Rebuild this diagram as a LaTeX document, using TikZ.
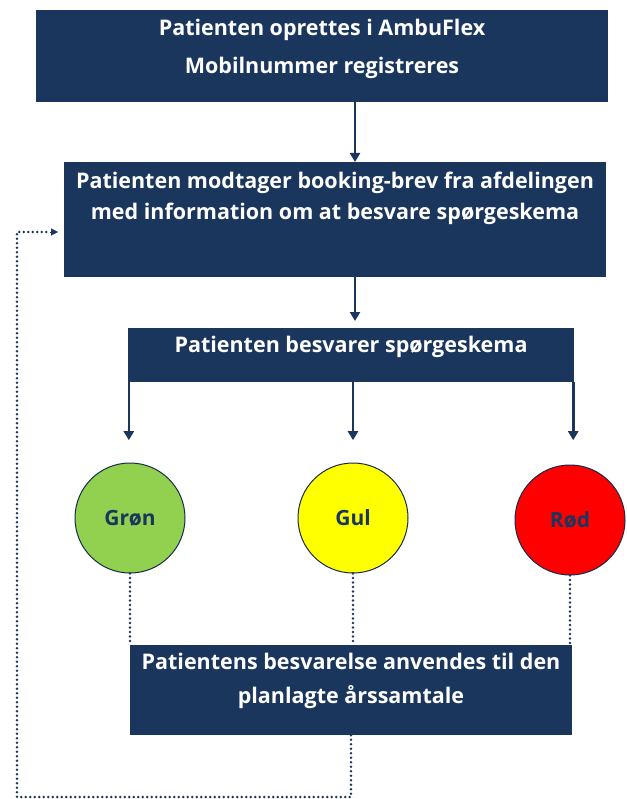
\documentclass[tikz,border=0pt]{standalone}
\usepackage{fontspec}
\setmainfont{Open Sans}
\usetikzlibrary{positioning,arrows.meta}

\definecolor{navy}{HTML}{1B365D}
\definecolor{groen}{HTML}{92D050}
\definecolor{gul}{HTML}{FFFF00}
\definecolor{roed}{HTML}{FF0000}

\tikzset{
  box/.style={fill=navy, draw=none, inner sep=0pt},
  boxtxt/.style={text=white, font=\bfseries\fontsize{21.5}{34}\selectfont, align=center, inner sep=0pt},
  light/.style={circle, draw=navy!80!black, line width=1pt, minimum size=110pt, text=navy, font=\bfseries\fontsize{21}{24}\selectfont},
  flow/.style={draw=navy, line width=2.6pt, -{Triangle[width=10pt,length=9pt]}},
  dots/.style={draw=navy, line width=2.8pt, line cap=round, dash pattern=on 0pt off 4.5pt}
}

\begin{document}
\begin{tikzpicture}[x=1pt,y=-1pt]
  \useasboundingbox (0,0) rectangle (626,799);

  % boxes
  \node[box, minimum width=572pt, minimum height=92pt] (oprettes) at (322,56) {};
  \node[boxtxt, below=9pt of oprettes.north, font=\bfseries\fontsize{21.5}{38}\selectfont] (oprettestxt)
      {Patienten oprettes i AmbuFlex\\Mobilnummer registreres};
  \node[box, minimum width=542pt, minimum height=115pt] (modtager) at (335,219.5) {};
  \node[boxtxt, below=10pt of modtager.north, font=\bfseries\fontsize{21.5}{31}\selectfont] (modtagertxt)
      {Patienten modtager booking-brev fra afdelingen\\med information om at besvare spørgeskema};
  \node[box, minimum width=446pt, minimum height=54pt] (besvarer) at (351,355) {};
  \node[boxtxt, below=8pt of besvarer.north] (besvarertxt)
      {Patienten besvarer spørgeskema};
  \node[box, minimum width=442pt, minimum height=90pt] (anvendes) at (351,690) {};
  \node[boxtxt, below=8pt of anvendes.north] (anvendestxt)
      {Patientens besvarelse anvendes til den\\planlagte årssamtale};

  % lights
  \node[light, fill=groen] (groen) at (130,518) {Grøn};
  \node[light, fill=gul]   (gul)   at (353,518) {Gul};
  \node[light, fill=roed]  (roed)  at (570,520) {Rød};

  % arrows
  \draw[flow] (355,102) -- (355,162);
  \draw[flow] (355,277) -- (355,321);
  \draw[flow] (besvarer.south west) ++(1,0) -- ++(0,58);
  \draw[flow] (besvarer.south) ++(2,0) -- ++(0,58);
  \draw[flow] (besvarer.south east) ++(-1,0) -- ++(0,58);

  % dotted lines
  \draw[dots] (groen.south) -- (groen.south |- anvendes.north);
  \draw[dots] (gul.south) -- (gul.south |- anvendes.north);
  \draw[dots] (roed.south) -- (roed.south |- anvendes.north);

  \coordinate (bund) at (351,797);
  \coordinate (venstre) at (17,797);
  \draw[dots] (anvendes.south) -- (bund) -- (venstre) -- (17,232) -- (50,232);
  \draw[navy, -{Triangle[width=7pt,length=7pt]}, line width=0.1pt] (50,232) -- (58,232);
\end{tikzpicture}
\end{document}
